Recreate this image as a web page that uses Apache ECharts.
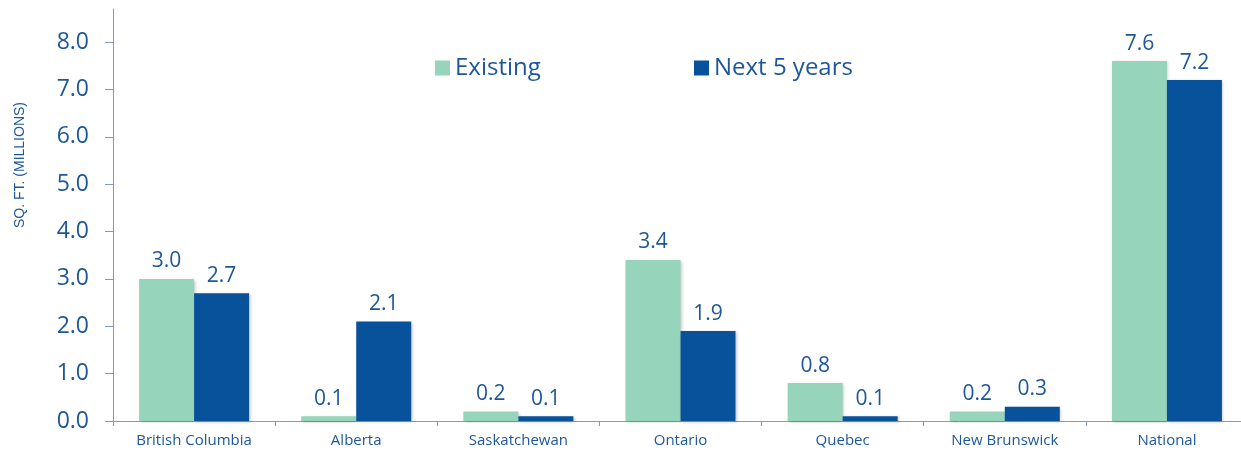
<!DOCTYPE html>
<html>
<head>
<meta charset="utf-8">
<script src="https://cdn.jsdelivr.net/npm/echarts@6/dist/echarts.min.js"></script>
<style>
  html, body { margin: 0; padding: 0; background: #ffffff; }
  #chart { width: 1241px; height: 453px; }
</style>
</head>
<body>
<div id="chart"></div>
<script>
// Office space by province, square feet (millions)
const categories = ['British Columbia', 'Alberta', 'Saskatchewan', 'Ontario', 'Quebec', 'New Brunswick', 'National'];
const existing = [3.0, 0.1, 0.2, 3.4, 0.8, 0.2, 7.6];
const nextFiveYears = [2.7, 2.1, 0.1, 1.9, 0.1, 0.3, 7.2];
const yTicks = [0, 1, 2, 3, 4, 5, 6, 7, 8];

const textBlue = '#1d5799';
const axisColor = '#8799c0';
const fontMain = '"Open Sans", "Noto Sans", sans-serif';

const chart = echarts.init(document.getElementById('chart'), null, { renderer: 'canvas' });

const barShadow = {
  shadowBlur: 3,
  shadowColor: 'rgba(0,0,0,0.22)',
  shadowOffsetX: 1.5,
  shadowOffsetY: 1
};

const valueLabel = {
  show: true,
  position: 'top',
  distance: 7,
  color: textBlue,
  fontFamily: fontMain,
  fontSize: 21,
  formatter: p => Number(p.value).toFixed(1)
};

const legendText = { color: textBlue, fontFamily: fontMain, fontSize: 24 };

chart.setOption({
  animation: false,
  backgroundColor: '#ffffff',
  // plot runs slightly past the right edge of the canvas
  grid: { left: 113, width: 1135, top: 9, bottom: 32, containLabel: false, outerBoundsMode: 'none' },
  legend: [
    {
      data: ['Existing'],
      left: 435, top: 56, padding: 0,
      icon: 'rect', itemWidth: 15, itemHeight: 15,
      textStyle: legendText
    },
    {
      data: ['Next 5 years'],
      left: 694, top: 56, padding: 0,
      icon: 'rect', itemWidth: 15, itemHeight: 15,
      textStyle: legendText
    }
  ],
  xAxis: {
    type: 'category',
    data: categories,
    axisLine: { lineStyle: { color: axisColor, width: 1 } },
    axisTick: { show: true, alignWithLabel: false, length: 5, lineStyle: { color: axisColor } },
    axisLabel: { color: textBlue, fontFamily: fontMain, fontSize: 15, margin: 12, interval: 0 }
  },
  yAxis: {
    type: 'value',
    min: 0,
    max: 8.7,
    interval: 1,
    splitLine: { show: false },
    axisLine: { show: true, lineStyle: { color: axisColor, width: 1 } },
    axisTick: { show: true, length: 8, lineStyle: { color: axisColor }, customValues: yTicks },
    axisLabel: {
      color: textBlue, fontFamily: fontMain, fontSize: 23, margin: 24,
      customValues: yTicks,
      formatter: v => Number(v).toFixed(1)
    }
  },
  graphic: [
    {
      type: 'text',
      x: 20, y: 165,
      rotation: Math.PI / 2,
      style: {
        text: 'SQ. FT. (MILLIONS)',
        fill: textBlue,
        font: '14px "Liberation Sans", Arial, sans-serif',
        align: 'center',
        verticalAlign: 'middle'
      }
    }
  ],
  series: [
    {
      name: 'Existing',
      type: 'bar',
      data: existing,
      barWidth: 55,
      barGap: '0%',
      itemStyle: Object.assign({ color: '#96d4bb' }, barShadow),
      label: valueLabel
    },
    {
      name: 'Next 5 years',
      type: 'bar',
      data: nextFiveYears,
      barWidth: 55,
      barGap: '0%',
      itemStyle: Object.assign({ color: '#07529a' }, barShadow),
      label: valueLabel
    }
  ]
});
</script>
</body>
</html>
